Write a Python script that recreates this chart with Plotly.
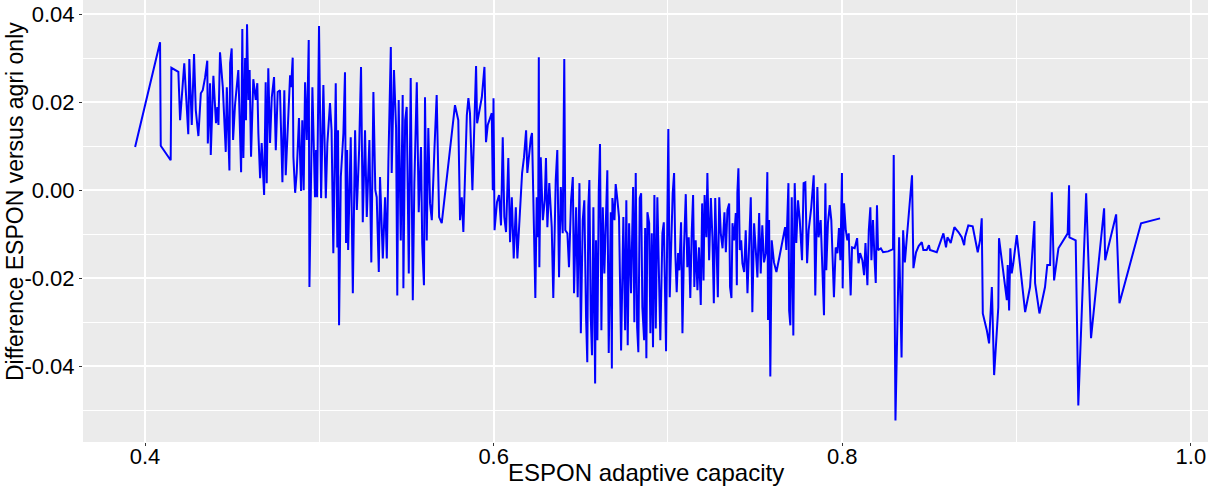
import plotly.graph_objects as go

capacity = [
0.3943,0.4086,0.4090,0.4147,0.4151,0.4191,0.4201,0.4225,0.4248,0.4254,0.4268,0.4281,0.4291,0.4306,0.4320,0.4331,
0.4344,0.4357,0.4360,0.4373,0.4377,0.4392,0.4407,0.4415,0.4421,0.4430,0.4446,0.4463,0.4469,0.4484,0.4488,0.4497,
0.4505,0.4516,0.4535,0.4551,0.4558,0.4564,0.4574,0.4579,0.4585,0.4593,0.4600,0.4608,0.4621,0.4635,0.4644,0.4650,
0.4660,0.4669,0.4683,0.4692,0.4698,0.4707,0.4717,0.4727,0.4740,0.4750,0.4761,0.4774,0.4788,0.4799,0.4807,0.4832,
0.4838,0.4847,0.4851,0.4861,0.4870,0.4883,0.4895,0.4902,0.4910,0.4918,0.4928,0.4939,0.4943,0.4952,0.4960,0.4975,
0.4981,0.4987,0.4998,0.5010,0.5023,0.5037,0.5046,0.5061,0.5070,0.5080,0.5094,0.5103,0.5107,0.5113,0.5123,0.5138,
0.5147,0.5153,0.5159,0.5165,0.5180,0.5192,0.5205,0.5215,0.5228,0.5239,0.5249,0.5262,0.5272,0.5287,0.5298,0.5310,
0.5321,0.5329,0.5341,0.5348,0.5364,0.5377,0.5387,0.5396,0.5410,0.5415,0.5428,0.5440,0.5447,0.5455,0.5467,0.5478,
0.5482,0.5492,0.5501,0.5513,0.5524,0.5536,0.5545,0.5559,0.5570,0.5583,0.5590,0.5600,0.5606,0.5616,0.5625,0.5635,
0.5645,0.5660,0.5673,0.5687,0.5702,0.5778,0.5797,0.5807,0.5817,0.5826,0.5836,0.5846,0.5855,0.5864,0.5878,0.5889,
0.5899,0.5905,0.5932,0.5947,0.5956,0.5966,0.5989,0.5995,0.5999,0.6005,0.6019,0.6031,0.6042,0.6052,0.6061,0.6071,
0.6084,0.6094,0.6104,0.6115,0.6127,0.6136,0.6151,0.6163,0.6174,0.6186,0.6193,0.6201,0.6213,0.6220,0.6232,0.6239,
0.6247,0.6255,0.6259,0.6262,0.6270,0.6282,0.6293,0.6300,0.6308,0.6319,0.6333,0.6342,0.6356,0.6365,0.6375,0.6385,
0.6396,0.6405,0.6411,0.6423,0.6432,0.6444,0.6454,0.6461,0.6473,0.6482,0.6492,0.6500,0.6511,0.6520,0.6530,0.6537,
0.6543,0.6549,0.6557,0.6564,0.6572,0.6582,0.6587,0.6595,0.6603,0.6610,0.6618,0.6626,0.6635,0.6645,0.6652,0.6660,
0.6672,0.6678,0.6681,0.6693,0.6700,0.6710,0.6719,0.6731,0.6744,0.6754,0.6761,0.6769,0.6777,0.6788,0.6800,0.6807,
0.6815,0.6823,0.6830,0.6838,0.6846,0.6853,0.6863,0.6869,0.6876,0.6882,0.6892,0.6899,0.6907,0.6914,0.6922,0.6930,
0.6939,0.6956,0.6968,0.6976,0.6983,0.6989,0.6997,0.7002,0.7010,0.7018,0.7027,0.7035,0.7042,0.7050,0.7058,0.7065,
0.7075,0.7083,0.7092,0.7102,0.7111,0.7119,0.7128,0.7136,0.7144,0.7151,0.7159,0.7169,0.7178,0.7188,0.7196,0.7204,
0.7210,0.7220,0.7226,0.7236,0.7246,0.7255,0.7263,0.7271,0.7278,0.7286,0.7294,0.7303,0.7313,0.7324,0.7332,0.7341,
0.7351,0.7356,0.7364,0.7370,0.7379,0.7389,0.7395,0.7398,0.7404,0.7412,0.7420,0.7427,0.7437,0.7446,0.7456,0.7465,
0.7475,0.7484,0.7494,0.7503,0.7513,0.7523,0.7532,0.7541,0.7551,0.7561,0.7570,0.7574,0.7580,0.7587,0.7595,0.7608,
0.7622,0.7647,0.7672,0.7679,0.7691,0.7695,0.7702,0.7710,0.7719,0.7727,0.7736,0.7746,0.7756,0.7769,0.7778,0.7788,
0.7798,0.7807,0.7822,0.7836,0.7845,0.7857,0.7864,0.7876,0.7883,0.7895,0.7903,0.7908,0.7918,0.7928,0.7937,0.7952,
0.7962,0.7972,0.7981,0.7989,0.7998,0.8002,0.8010,0.8020,0.8029,0.8037,0.8048,0.8056,0.8071,0.8085,0.8093,0.8102,
0.8115,0.8125,0.8133,0.8144,0.8152,0.8161,0.8167,0.8176,0.8186,0.8192,0.8199,0.8205,0.8221,0.8234,0.8263,0.8291,
0.8295,0.8305,0.8326,0.8340,0.8349,0.8359,0.8369,0.8400,0.8408,0.8423,0.8438,0.8456,0.8465,0.8484,0.8497,0.8503,
0.8542,0.8561,0.8580,0.8595,0.8603,0.8614,0.8622,0.8643,0.8666,0.8685,0.8699,0.8704,0.8723,0.8748,0.8762,0.8777,
0.8790,0.8800,0.8806,0.8829,0.8842,0.8858,0.8871,0.8895,0.8899,0.8944,0.8949,0.8957,0.8964,0.8972,0.8981,0.9001,
0.9049,0.9077,0.9102,0.9106,0.9131,0.9163,0.9176,0.9192,0.9202,0.9215,0.9240,0.9293,0.9301,0.9303,0.9339,0.9354,
0.9399,0.9427,0.9502,0.9508,0.9571,0.9590,0.9714,0.9823]

difference = [
0.0098,0.0336,0.0101,0.0068,0.0278,0.0269,0.0159,0.0288,0.0127,0.0298,0.0148,0.0309,0.0182,0.0123,0.0220,0.0227,
0.0255,0.0294,0.0106,0.0243,0.0080,0.0260,0.0152,0.0189,0.0148,0.0313,0.0234,0.0087,0.0234,0.0045,0.0289,0.0322,
0.0114,0.0193,0.0273,0.0041,0.0366,0.0073,0.0300,0.0159,0.0377,0.0205,0.0273,0.0076,0.0252,0.0205,0.0243,0.0130,
0.0027,0.0107,-0.0011,0.0245,0.0016,0.0277,0.0107,0.0211,0.0257,0.0091,0.0223,0.0227,0.0018,0.0227,0.0034,0.0261,
0.0234,0.0301,0.0076,-0.0006,0.0039,0.0164,-0.0002,0.0159,0.0000,0.0245,0.0114,0.0341,-0.0220,-0.0016,0.0234,-0.0016,
0.0091,-0.0016,0.0373,-0.0018,0.0239,-0.0018,0.0107,0.0198,0.0136,-0.0143,0.0243,-0.0130,0.0136,-0.0307,0.0030,0.0130,
0.0268,-0.0120,0.0091,-0.0136,0.0120,-0.0234,0.0136,-0.0045,0.0091,0.0280,-0.0073,0.0136,-0.0061,0.0114,-0.0164,0.0223,
0.0000,-0.0016,-0.0186,0.0030,-0.0155,-0.0016,-0.0155,0.0064,0.0325,0.0039,0.0273,0.0143,-0.0239,0.0205,-0.0114,0.0216,
-0.0223,0.0159,0.0189,-0.0189,0.0255,-0.0250,0.0016,0.0245,-0.0050,0.0098,-0.0120,-0.0216,0.0211,-0.0114,0.0141,-0.0030,
-0.0068,0.0091,0.0216,-0.0061,-0.0075,0.0193,0.0159,-0.0068,-0.0016,-0.0095,0.0068,0.0170,0.0209,0.0175,0.0000,0.0166,
0.0282,0.0152,0.0211,0.0280,0.0109,0.0148,0.0175,0.0000,0.0209,-0.0091,-0.0027,-0.0011,-0.0080,0.0120,-0.0061,-0.0095,
0.0073,-0.0118,-0.0016,-0.0155,-0.0039,-0.0155,-0.0030,0.0039,0.0075,0.0136,0.0039,0.0075,0.0118,0.0130,-0.0084,-0.0245,
-0.0016,-0.0107,0.0302,-0.0175,0.0075,-0.0068,-0.0023,0.0073,-0.0084,0.0016,-0.0084,-0.0245,0.0023,0.0091,-0.0198,0.0007,
-0.0098,0.0298,-0.0091,-0.0098,-0.0175,-0.0023,0.0030,-0.0234,-0.0039,-0.0243,0.0016,-0.0325,-0.0068,-0.0023,-0.0289,-0.0391,
-0.0039,0.0023,-0.0289,-0.0375,-0.0039,-0.0439,-0.0114,-0.0341,0.0000,0.0105,-0.0318,-0.0039,-0.0189,-0.0052,0.0045,-0.0370,
-0.0050,-0.0405,-0.0018,-0.0068,0.0014,-0.0023,-0.0061,-0.0364,-0.0061,-0.0318,-0.0023,-0.0352,-0.0075,-0.0234,0.0007,-0.0300,
0.0039,-0.0311,-0.0368,-0.0018,-0.0007,-0.0266,-0.0341,-0.0086,-0.0382,-0.0050,-0.0075,-0.0325,-0.0098,-0.0357,-0.0011,-0.0314,
-0.0016,-0.0341,-0.0098,-0.0073,-0.0280,-0.0366,-0.0039,0.0139,-0.0243,-0.0107,-0.0007,0.0039,-0.0143,-0.0232,-0.0143,-0.0182,
-0.0073,-0.0325,-0.0130,-0.0009,-0.0175,-0.0107,-0.0245,-0.0098,-0.0011,-0.0220,-0.0114,-0.0227,-0.0130,-0.0261,-0.0030,-0.0205,
-0.0011,-0.0107,0.0039,-0.0159,-0.0018,-0.0107,-0.0257,-0.0018,-0.0143,-0.0243,-0.0016,-0.0098,-0.0132,-0.0050,-0.0141,-0.0045,
-0.0030,-0.0220,-0.0245,-0.0075,-0.0114,-0.0052,-0.0216,-0.0007,0.0050,-0.0136,-0.0114,-0.0166,-0.0186,-0.0091,-0.0234,-0.0107,
-0.0016,-0.0277,-0.0075,-0.0132,-0.0198,-0.0052,-0.0189,-0.0080,-0.0164,-0.0143,0.0041,-0.0295,-0.0068,-0.0423,-0.0114,-0.0164,
-0.0186,-0.0136,-0.0084,-0.0136,0.0016,-0.0273,-0.0307,-0.0016,-0.0330,0.0016,-0.0120,-0.0023,-0.0068,-0.0159,0.0016,0.0018,
-0.0166,-0.0091,-0.0039,0.0034,-0.0239,0.0007,-0.0107,-0.0068,-0.0152,-0.0284,0.0016,-0.0182,-0.0073,-0.0034,-0.0068,-0.0243,
-0.0130,-0.0143,-0.0086,-0.0159,0.0039,-0.0223,-0.0030,-0.0091,-0.0114,-0.0098,-0.0239,-0.0130,-0.0132,-0.0109,-0.0166,-0.0143,
-0.0159,-0.0193,-0.0120,-0.0216,-0.0091,-0.0039,-0.0159,-0.0068,-0.0166,-0.0211,-0.0034,-0.0136,-0.0132,-0.0141,-0.0139,-0.0134,
0.0080,-0.0523,-0.0107,-0.0380,-0.0091,-0.0164,-0.0114,0.0034,-0.0177,-0.0141,-0.0127,-0.0118,-0.0136,-0.0136,-0.0125,-0.0136,
-0.0141,-0.0120,-0.0098,-0.0130,-0.0107,-0.0114,-0.0120,-0.0084,-0.0095,-0.0107,-0.0125,-0.0107,-0.0080,-0.0082,-0.0114,-0.0141,
-0.0114,-0.0064,-0.0280,-0.0318,-0.0348,-0.0220,-0.0420,-0.0266,-0.0109,-0.0250,-0.0170,-0.0273,-0.0132,-0.0189,-0.0166,-0.0102,
-0.0277,-0.0220,-0.0070,-0.0211,-0.0280,-0.0220,-0.0170,-0.0170,-0.0005,-0.0205,-0.0132,-0.0098,0.0011,-0.0107,-0.0114,-0.0489,
-0.0007,-0.0336,-0.0041,-0.0159,-0.0055,-0.0257,-0.0075,-0.0064]

x_tick_vals = [0.4, 0.6, 0.8, 1.0]
x_tick_text = ["0.4", "0.6", "0.8", "1.0"]
y_tick_vals = [0.04, 0.02, 0.0, -0.02, -0.04]
y_tick_text = ["0.04", "0.02", "0.00", "-0.02", "-0.04"]
x_title = "ESPON adaptive capacity"
y_title = "Difference ESPON versus agri only"

FONT = "Liberation Sans, Arial, sans-serif"

fig = go.Figure()
fig.add_trace(go.Scatter(
    x=capacity, y=difference, mode="lines",
    line=dict(color="#0000FF", width=2),
    showlegend=False, hoverinfo="x+y",
))

fig.update_layout(
    template="none",
    width=1208, height=486,
    margin=dict(l=83, r=0, t=0, b=44, pad=0),
    paper_bgcolor="white",
    plot_bgcolor="#EBEBEB",
    font=dict(family=FONT, color="black"),
    showlegend=False,
)

fig.update_xaxes(
    range=[0.3644, 1.0098],
    tickvals=x_tick_vals, ticktext=x_tick_text,
    tickfont=dict(size=22, color="black", family=FONT),
    ticks="outside", ticklen=3, tickwidth=1, tickcolor="#333333",
    ticklabelstandoff=-8,
    showgrid=True, gridcolor="white", gridwidth=1.6,
    minor=dict(dtick=0.1, tick0=0.0, showgrid=True, gridcolor="white", gridwidth=0.8, ticks=""),
    zeroline=False, showline=False, automargin=False,
)
fig.update_yaxes(
    range=[-0.0572, 0.0432],
    tickvals=y_tick_vals, ticktext=y_tick_text,
    tickfont=dict(size=22, color="black", family=FONT),
    ticks="outside", ticklen=3, tickwidth=1, tickcolor="#333333",
    showgrid=True, gridcolor="white", gridwidth=1.6,
    minor=dict(dtick=0.01, tick0=0.0, showgrid=True, gridcolor="white", gridwidth=0.8, ticks=""),
    zeroline=False, showline=False, automargin=False,
)

fig.add_annotation(
    text=x_title, xref="paper", yref="paper", x=0.5, y=-0.0701,
    xanchor="center", yanchor="middle", showarrow=False,
    font=dict(size=24, color="black", family=FONT),
)
fig.add_annotation(
    text=y_title, xref="paper", yref="paper", x=-0.0604, y=0.543,
    xanchor="center", yanchor="middle", showarrow=False, textangle=-90,
    font=dict(size=23, color="black", family=FONT),
)

fig.write_html(
    "out.html",
    config={"displayModeBar": False},
    post_script="document.body.style.margin='0';document.body.style.overflow='hidden';",
)
